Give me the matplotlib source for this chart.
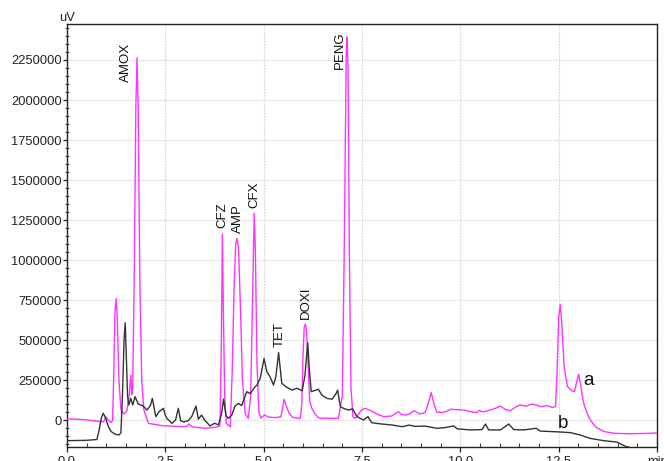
import matplotlib
matplotlib.use("Agg")
import matplotlib.pyplot as plt
from matplotlib.ticker import MultipleLocator, FixedLocator, FixedFormatter, FuncFormatter

plt.rcParams['font.family'] = ['Liberation Sans', 'DejaVu Sans']

# Chromatogram a (standard mixture), retention time in min, signal in uV
time_a = [0.00, 0.40, 0.80, 0.93, 0.99, 1.05, 1.12, 1.16, 1.19, 1.22, 1.25, 1.28, 1.32, 1.37,
          1.44, 1.52, 1.58, 1.62, 1.645, 1.67, 1.71, 1.75, 1.78, 1.81, 1.85, 1.90, 1.95, 1.98,
          2.07, 2.41, 2.92, 3.05, 3.10, 3.18, 3.30, 3.51, 3.77, 3.89, 3.925, 3.95, 3.98, 4.01,
          4.05, 4.15, 4.20, 4.25, 4.29, 4.32, 4.36, 4.41, 4.46, 4.53, 4.61, 4.67, 4.72, 4.76,
          4.79, 4.83, 4.88, 4.93, 5.02, 5.13, 5.30, 5.44, 5.49, 5.52, 5.57, 5.65, 5.75, 5.93,
          5.97, 6.00, 6.03, 6.06, 6.09, 6.13, 6.17, 6.22, 6.30, 6.40, 6.90, 7.00, 7.05, 7.10,
          7.12, 7.145, 7.18, 7.22, 7.27, 7.33, 7.42, 7.50, 7.58, 7.75, 7.90, 8.05, 8.25, 8.38,
          8.43, 8.50, 8.62, 8.72, 8.83, 8.96, 9.10, 9.18, 9.26, 9.33, 9.40, 9.55, 9.68, 9.75,
          9.95, 10.10, 10.30, 10.42, 10.48, 10.56, 10.70, 10.88, 11.02, 11.15, 11.27, 11.40,
          11.52, 11.68, 11.82, 11.95, 12.05, 12.20, 12.35, 12.42, 12.46, 12.50, 12.54, 12.58,
          12.64, 12.72, 12.82, 12.90, 12.96, 13.01, 13.06, 13.12, 13.20, 13.30, 13.45, 13.65,
          13.90, 14.30, 14.70, 15.00]
signal_a = [8000, 3000, -8000, -12000, 20000, 0, -17000, 0, 300000, 680000, 760000, 620000,
            250000, 70000, 38000, 55000, 150000, 281000, 160000, 200000, 900000, 1950000,
            2265000, 1950000, 900000, 250000, 70000, 42000, -21000, -35000, -42000, -40000,
            -25000, -42000, -46000, -52000, -46000, -37000, 500000, 1162500, 600000, 150000,
            -20000, -42000, 300000, 850000, 1100000, 1135000, 1080000, 700000, 250000, 40000,
            10000, 150000, 800000, 1292000, 1050000, 350000, 50000, 12000, 31000, 18000, 15000,
            20000, 90000, 130000, 90000, 40000, 15000, 10000, 100000, 400000, 580000, 600000,
            560000, 350000, 120000, 75000, 40000, 12000, 10000, 150000, 1100000, 2300000,
            2393750, 2200000, 1000000, 200000, 20000, 10000, 40000, 65000, 73000, 55000, 35000,
            21000, 25000, 45000, 52000, 35000, 31000, 40000, 58000, 38000, 45000, 100000,
            171000, 100000, 50000, 46000, 58000, 67000, 64000, 62000, 50000, 46000, 60000,
            50000, 58000, 72000, 87000, 65000, 58000, 80000, 94000, 86000, 100000, 92000,
            83000, 90000, 78000, 85000, 300000, 640000, 723000, 600000, 330000, 210000, 185000,
            177000, 240000, 286000, 220000, 120000, 55000, 0, -45000, -72000, -83000, -86000,
            -84000, -81000]

# Chromatogram b (sample)
time_b = [0.00, 0.50, 0.76, 0.82, 0.87, 0.92, 0.97, 1.05, 1.12, 1.22, 1.32, 1.37, 1.41, 1.45,
          1.48, 1.51, 1.54, 1.57, 1.62, 1.67, 1.73, 1.81, 1.94, 2.03, 2.12, 2.17, 2.23, 2.26,
          2.34, 2.45, 2.50, 2.54, 2.67, 2.76, 2.83, 2.89, 2.97, 3.08, 3.17, 3.28, 3.34, 3.42,
          3.51, 3.64, 3.75, 3.85, 3.93, 3.98, 4.04, 4.10, 4.19, 4.27, 4.36, 4.44, 4.57, 4.66,
          4.77, 4.83, 4.91, 4.96, 5.01, 5.08, 5.16, 5.25, 5.31, 5.38, 5.46, 5.59, 5.72, 5.85,
          5.98, 6.05, 6.12, 6.16, 6.21, 6.39, 6.48, 6.61, 6.74, 6.84, 6.88, 6.95, 7.03, 7.16,
          7.26, 7.37, 7.54, 7.65, 7.75, 8.00, 8.26, 8.52, 8.70, 8.85, 9.10, 9.41, 9.60, 9.83,
          9.92, 10.25, 10.55, 10.64, 10.72, 11.02, 11.23, 11.36, 11.61, 11.93, 12.03, 12.54,
          12.80, 13.05, 13.30, 13.64, 13.98, 14.20, 14.60, 15.00]
signal_b = [-129000, -127000, -122000, -60000, 10000, 42000, 20000, -40000, -72000, -88000,
            -94000, -80000, 150000, 500000, 608000, 380000, 150000, 94000, 135000, 94000,
            146000, 100000, 87000, 62000, 90000, 135000, 55000, 21000, 52000, 73000, 30000,
            10000, -21000, 0, 73000, -5000, -12000, -5000, 21000, 87000, 5000, 31000, -4000,
            -37000, -20000, -31000, 40000, 131000, 30000, 10000, 31000, 87000, 104000, 90000,
            177000, 165000, 204000, 219000, 260000, 320000, 385000, 302000, 271000, 219000,
            270000, 421000, 229000, 204000, 187000, 198000, 183000, 280000, 483000, 320000,
            177000, 192000, 156000, 135000, 130000, 165000, 187000, 83000, 73000, 62000, 70000,
            21000, 0, 21000, -17000, -25000, -31000, -42000, -32000, -40000, -38000, -52000,
            -48000, -37000, -55000, -62000, -60000, -25000, -62000, -62000, -25000, -60000,
            -62000, -52000, -69000, -75000, -79000, -94000, -115000, -129000, -138000, -165000,
            -190000, -205000]

peak_names = ["AMOX", "CFZ", "AMP", "CFX", "TET", "DOXI", "PENG"]
x_tick_values = [0.0, 2.5, 5.0, 7.5, 10.0, 12.5, 15.0]
x_tick_labels = ["0.0", "2.5", "5.0", "7.5", "10.0", "12.5", "min"]

# anchor points (min, uV) for the rotated peak names
name_anchor = {
    "AMOX": (1.49, 2114000),
    "CFZ": (3.95, 1198000),
    "AMP": (4.34, 1170000),
    "CFX": (4.76, 1323000),
    "TET": (5.40, 458000),
    "DOXI": (6.07, 629000),
    "PENG": (6.94, 2194000),
}

fig = plt.figure(figsize=(6.64, 4.61), dpi=100)
ax = fig.add_axes([67 / 664, 14 / 461, 590 / 664, 423 / 461])

ax.plot(time_a, signal_a, color="#ff33ff", lw=1.0, zorder=3)
ax.plot(time_b, signal_b, color="#333333", lw=1.0, zorder=4)

ax.set_xlim(0, 15)
ax.set_ylim(-168750, 2475000)

ax.xaxis.set_major_locator(FixedLocator(x_tick_values))
ax.xaxis.set_major_formatter(FixedFormatter(x_tick_labels))
ax.xaxis.set_minor_locator(MultipleLocator(0.5))
ax.yaxis.set_major_locator(MultipleLocator(250000))
ax.yaxis.set_major_formatter(FuncFormatter(lambda v, p: f"{int(round(v))}"))
ax.yaxis.set_minor_locator(MultipleLocator(50000))

ax.tick_params(axis="y", which="major", direction="out", length=3.2, width=0.9,
               pad=0.6, labelsize=9.3, colors="#222222")
ax.tick_params(axis="y", which="minor", direction="inout", length=3.5, width=0.8,
               colors="#444444")
ax.tick_params(axis="x", which="major", direction="out", length=3.5, width=0.9,
               pad=2.8, labelsize=9.3, colors="#222222")
ax.tick_params(axis="x", which="minor", direction="in", length=3, width=0.8,
               colors="#444444")

ax.grid(True, which="major", color="#d4d4d4", linestyle=(0, (1.5, 1.2)), linewidth=0.8)
ax.set_axisbelow(True)
for s in ax.spines.values():
    s.set_color("#222222")
    s.set_linewidth(1.0)

for name in peak_names:
    xt, yt = name_anchor[name]
    ax.text(xt, yt, name, rotation=90, ha="center", va="bottom", fontsize=9.5,
            color="#111111", zorder=5)

ax.text(13.27, 246000, "a", ha="center", va="center", fontsize=13.5, color="#111111", zorder=5)
ax.text(12.61, -21000, "b", ha="center", va="center", fontsize=13.5, color="#111111", zorder=5)

ax.text(0.0, 1.0, "uV", transform=ax.transAxes, ha="center", va="bottom",
        fontsize=9.3, color="#222222")

fig.savefig("out.png", dpi=100)
